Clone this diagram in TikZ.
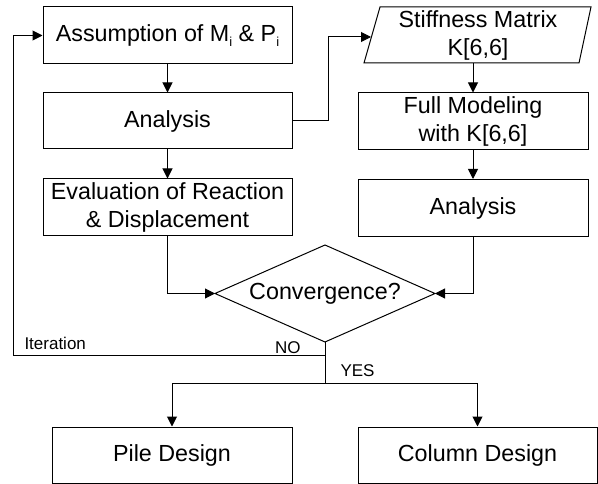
\documentclass[tikz,border=0pt]{standalone}
\usepackage{fontspec}
\setmainfont{Liberation Sans}
\usetikzlibrary{arrows.meta}
\begin{document}
\begin{tikzpicture}[x=1pt,y=-1pt,
  line width=1pt,
  box/.style={draw,line width=1pt,inner sep=0pt,align=center,
    font=\fontsize{23.3}{28}\selectfont},
  txt/.style={inner sep=0pt,align=center,font=\fontsize{23.3}{28}\selectfont},
  lbl/.style={inner sep=0pt,font=\fontsize{17}{17}\selectfont},
  arr/.style={-{Triangle[length=10pt,width=10pt]}},
  ln/.style={line width=1pt}]
\useasboundingbox (0,0) rectangle (598,484);
% boxes
\node[box,minimum width=249pt,minimum height=57pt] (asm) at (167.5,35.5)
  {Assumption of M\raisebox{-5pt}{\fontsize{13}{13}\selectfont i} \& P\raisebox{-5pt}{\fontsize{13}{13}\selectfont i}};
\node[box,minimum width=249pt,minimum height=56pt] (an1) at (167.5,121) {Analysis};
\node[box,minimum width=249pt,minimum height=57pt] (eval) at (167.5,207.5) {Evaluation of Reaction\\\& Displacement};
% parallelogram
\draw[ln] (364,63) -- (380,7) -- (591,7) -- (579,63) -- cycle;
\node[txt] (stiff) at (478,35) {Stiffness Matrix\\K[6,6]};
\coordinate (stiffin) at (371,37);
\coordinate (stiffout) at (473,63);
\node[box,minimum width=230pt,minimum height=57pt] (fm) at (473,121.5) {Full Modeling\\with K[6,6]};
\node[box,minimum width=230pt,minimum height=57pt] (an2) at (473,208) {Analysis};
% diamond
\draw[ln] (215,293.5) -- (325,245) -- (435,293.5) -- (325,342) -- cycle;
\node[txt] (conv) at (325,293.5) {Convergence?};
\coordinate (convW) at (215,293.5);
\coordinate (convE) at (435,293.5);
\coordinate (convS) at (325,342);
% bottom boxes
\node[box,minimum width=240pt,minimum height=56pt] (pile) at (172,455) {Pile Design};
\node[box,minimum width=239pt,minimum height=56pt] (col) at (477.5,455) {Column Design};
% connectors
\draw[arr] (asm.south) -- (an1.north);
\draw[arr] (an1.south) -- (eval.north);
\draw[arr] (eval.south) |- (convW);
\draw[arr] (an1.east) -- (328,121) |- (stiffin);
\draw[arr] (stiffout) -- (fm.north);
\draw[arr] (fm.south) -- (an2.north);
\draw[arr] (an2.south) |- (convE);
\coordinate (yes) at (325,383);
\coordinate (no) at (325,355);
\coordinate (noleft) at (13,355);
\draw[ln] (convS) -- (yes);
\draw[arr] (no) -- (noleft) |- (asm.west);
\draw[arr] (yes) -| (pile.north);
\draw[arr] (yes) -| (col.north);
% labels
\node[lbl,anchor=base west] (iter) at (24,349) {Iteration};
\node[lbl,anchor=base east] (nol) at (301,353) {NO};
\node[lbl,anchor=base west] (yesl) at (340,377) {YES};
\end{tikzpicture}
\end{document}
